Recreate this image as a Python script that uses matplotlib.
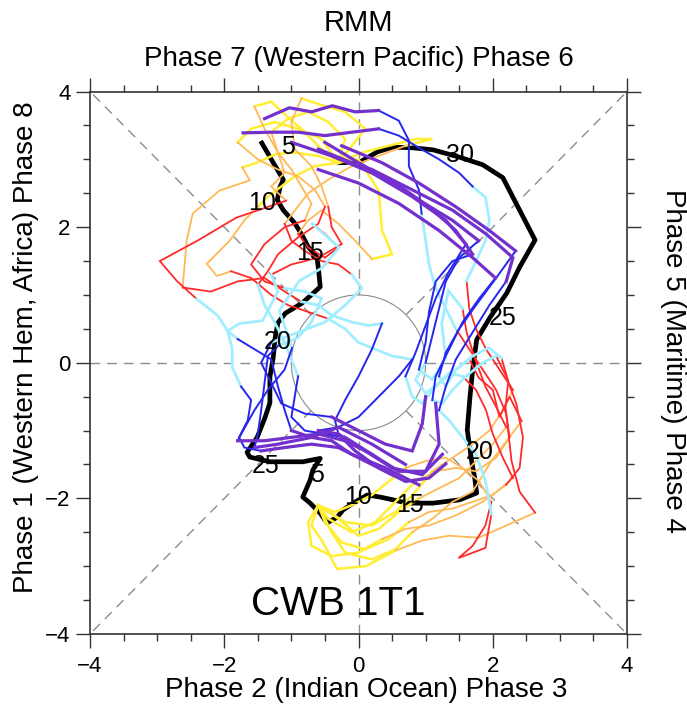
import matplotlib
matplotlib.use("Agg")
import matplotlib.pyplot as plt
from matplotlib.patches import Circle
from matplotlib.ticker import MultipleLocator

plt.rcParams['font.family'] = ['Liberation Sans', 'DejaVu Sans']

# ---------------- data ----------------
# observed RMM trajectory (RMM1, RMM2)
OBS_X = [-1.44, -1.27, -1.12, -1.17, -1.21, -1.12, -0.95, -0.84, -0.75, -0.62, -0.60, -0.57,
         -0.84, -1.09, -1.20, -1.24, -1.27, -1.32, -1.32, -1.39, -1.51, -1.66, -1.62, -1.32,
         -0.83, -0.57, -0.68, -0.72, -0.83, -0.72, -0.57, -0.47, -0.32, -0.23, -0.08, 0.13,
         0.32, 0.51, 0.72, 1.11, 1.51, 1.76, 1.73, 1.69, 1.62, 1.66, 1.70, 1.76, 1.96, 2.21,
         2.40, 2.63, 2.40, 2.15, 1.85, 1.51, 1.11, 0.81, 0.51, 0.28, 0.02, -0.28]
OBS_Y = [3.24, 2.95, 2.70, 2.59, 2.40, 2.25, 2.06, 1.88, 1.71, 1.56, 1.41, 1.12,
         0.88, 0.73, 0.59, 0.38, 0.08, -0.21, -0.59, -0.80, -1.10, -1.32, -1.39, -1.46,
         -1.46, -1.41, -1.58, -1.73, -1.98, -2.07, -2.22, -2.36, -2.28, -2.17, -2.07, -1.95,
         -1.98, -2.02, -2.07, -2.07, -2.02, -1.92, -1.69, -1.48, -0.99, -0.51, -0.11, 0.34,
         0.67, 1.03, 1.41, 1.81, 2.25, 2.73, 2.92, 3.03, 3.14, 3.17, 3.18, 3.11, 2.96, 2.95]

DAY_LABELS = ['5', '10', '15', '20', '25', '5', '10', '15', '20', '25', '30']
DAY_LX = [-1.05, -1.44, -0.72, -1.20, -1.39, -0.62, -0.01, 0.77, 1.81, 2.15, 1.51]
DAY_LY = [3.18, 2.36, 1.62, 0.31, -1.52, -1.66, -1.98, -2.10, -1.32, 0.66, 3.06]

# ensemble forecast members, forecast set 1 (31 daily points each)
S1_M1_X = [-0.30, -0.55, -0.80, -1.05, -1.30, -1.55, -1.40, -1.20, -1.10, -1.30, -1.08, -1.82, -2.40, -2.96, -2.70, -2.41,
           -2.10, -1.95, -1.88, -1.88, -1.75, -1.60, -1.65, -1.78, -1.70, -1.45, -1.10, -0.70, -0.30, 0.10, 0.50]
S1_M1_Y = [2.95, 3.15, 3.40, 3.62, 3.85, 3.78, 3.45, 3.10, 2.80, 2.60, 2.39, 2.14, 1.80, 1.50, 1.20, 0.94,
           0.70, 0.47, 0.20, -0.07, -0.35, -0.55, -0.85, -1.10, -1.25, -1.30, -1.25, -1.20, -1.25, -1.45, -1.65]
S1_M2_X = [-0.30, -0.60, -0.95, -1.22, -1.52, -1.73, -1.62, -2.07, -2.47, -2.56, -2.62, -2.20, -1.80, -1.40, -1.10, -0.85,
           -0.60, -0.40, -0.10, 0.15, 0.35, 0.20, 0.00, -0.20, -0.35, -0.30, -0.05, 0.30, 0.70, 1.05, 1.30]
S1_M2_Y = [2.95, 3.05, 3.10, 3.08, 2.95, 2.88, 2.69, 2.54, 2.20, 1.80, 1.11, 1.05, 1.20, 1.25, 1.05, 0.90,
           0.85, 0.70, 0.60, 0.55, 0.58, 0.20, -0.20, -0.55, -0.85, -1.05, -1.30, -1.55, -1.75, -1.70, -1.49]
S1_M3_X = [-0.30, -0.10, 0.10, -0.20, -0.55, -0.85, -1.00, -0.95, -0.70, -0.55, -0.45, -0.40, -0.25, -0.60, -1.00, -1.30,
           -1.20, -1.43, -1.77, -1.95, -1.80, -1.55, -1.30, -1.20, -1.10, -1.00, -0.70, -0.40, -0.10, 0.40, 0.90]
S1_M3_Y = [2.95, 3.20, 3.45, 3.70, 3.80, 3.90, 3.55, 3.15, 2.90, 2.60, 2.30, 2.00, 1.75, 1.55, 1.45, 1.30,
           1.05, 0.62, 0.58, 0.47, 0.35, 0.20, 0.05, -0.35, -0.70, -1.00, -1.10, -1.15, -1.35, -1.55, -1.80]
S1_M4_X = [-0.30, 0.00, 0.30, 0.35, 0.50, 0.20, -0.05, -0.30, -0.55, -0.75, -0.90, -0.75, -0.50, -0.30, -0.50, -0.69,
           -0.29, -0.54, -0.88, -1.18, -0.99, -1.10, -1.35, -1.55, -1.72, -1.80, -1.40, -1.00, -0.60, -0.20, 0.20]
S1_M4_Y = [2.95, 3.00, 2.54, 1.95, 1.60, 1.53, 1.80, 2.05, 2.25, 2.10, 1.90, 1.70, 1.55, 1.70, 1.90, 2.05,
           1.70, 1.40, 1.21, 0.77, 0.22, -0.10, -0.40, -0.70, -1.00, -1.15, -1.15, -1.10, -1.05, -1.15, -1.35]
S1_M5_X = [-0.30, -0.20, -0.45, -0.75, -1.05, -1.30, -1.20, -1.00, -0.85, -0.70, -0.80, -1.10, -1.40, -1.60, -1.40, -1.10,
           -0.80, -0.55, -0.70, -0.90, -1.20, -1.35, -1.40, -1.45, -1.50, -1.55, -1.20, -0.70, -0.30, 0.20, 0.70]
S1_M5_Y = [2.95, 3.30, 3.55, 3.70, 3.60, 3.40, 3.10, 2.85, 2.60, 2.35, 2.10, 2.00, 1.75, 1.45, 1.20, 1.10,
           1.05, 0.95, 0.60, 0.37, 0.25, 0.10, -0.30, -0.70, -1.05, -1.25, -1.20, -1.10, -0.95, -1.20, -1.50]
S1_M6_X = [-0.30, -0.65, -0.95, -1.15, -1.35, -1.50, -1.70, -1.92, -2.26, -2.11, -1.90, -1.60, -1.30, -1.05, -0.75, -0.45,
           -0.20, 0.00, 0.25, 0.50, 0.80, 0.60, 0.30, 0.00, -0.30, -0.60, -0.30, 0.10, 0.50, 0.95, 1.25]
S1_M6_Y = [2.95, 2.90, 2.75, 2.60, 2.45, 2.30, 2.10, 1.80, 1.46, 1.28, 1.35, 1.25, 1.00, 0.85, 0.75, 0.65,
           0.50, 0.30, 0.20, 0.10, 0.05, -0.20, -0.50, -0.80, -0.95, -1.00, -1.05, -1.30, -1.55, -1.65, -1.35]
S1_M7_X = [-0.30, -0.55, -0.90, -1.25, -1.60, -1.80, -1.50, -1.20, -0.90, -0.65, -0.50, -0.60, -0.90, -1.20, -1.35, -1.50,
           -1.40, -1.25, -1.10, -1.00, -0.90, -0.95, -1.00, -0.80, -0.50, -0.20, 0.20, 0.60, 1.00, 1.20, 1.15]
S1_M7_Y = [2.95, 3.30, 3.45, 3.55, 3.45, 3.25, 3.00, 2.85, 2.75, 2.55, 2.30, 2.05, 1.85, 1.60, 1.35, 1.15,
           0.85, 0.60, 0.30, 0.05, -0.20, -0.50, -0.80, -1.00, -1.05, -1.10, -1.35, -1.60, -1.60, -1.20, -0.60]
S1_M8_X = [-0.30, 0.05, 0.45, 0.85, 1.10, 0.70, 0.30, -0.10, -0.45, -0.75, -1.10, -1.00, -0.80, -0.55, -0.30, -0.10,
           0.05, -0.20, -0.50, -0.90, -1.30, -1.45, -1.30, -1.15, -0.80, -0.40, 0.00, 0.40, 0.80, 0.95, 1.00]
S1_M8_Y = [2.95, 3.10, 3.20, 3.30, 3.30, 3.20, 3.05, 2.90, 2.70, 2.50, 2.05, 1.80, 1.65, 1.50, 1.45, 1.30,
           1.10, 0.85, 0.60, 0.45, 0.30, 0.00, -0.30, -0.60, -0.75, -0.80, -1.00, -1.20, -1.30, -0.90, -0.50]

# forecast set 2
S2_M1_X = [-0.60, -0.70, -0.54, -0.32, 0.11, 0.55, 0.95, 1.35, 1.79, 2.20, 2.63, 2.40, 2.28, 2.19, 2.23, 2.13,
           1.94, 1.70, 1.45, 1.30, 1.20, 1.30, 1.50, 1.75, 2.05, 2.34, 1.95, 1.45, 0.90, 0.35, -0.25]
S2_M1_Y = [-2.10, -2.40, -2.63, -3.04, -3.00, -2.77, -2.62, -2.55, -2.58, -2.40, -2.21, -1.90, -1.45, -0.66, -0.27, 0.07,
           0.22, 0.10, -0.10, -0.35, -0.20, 0.15, 0.50, 0.85, 1.25, 1.65, 1.95, 2.30, 2.65, 2.95, 3.20]
S2_M2_X = [-0.60, -0.40, -0.20, 0.20, 0.55, 0.80, 1.10, 1.40, 1.70, 1.98, 2.43, 2.25, 2.10, 2.00, 1.79, 1.65,
           1.45, 1.20, 1.00, 0.85, 1.00, 1.10, 1.20, 1.30, 1.50, 1.79, 1.40, 0.90, 0.40, -0.10, -0.60]
S2_M2_Y = [-2.10, -2.50, -2.80, -2.90, -2.75, -2.50, -2.30, -2.05, -1.90, -1.45, -0.86, -0.50, -0.80, -0.40, -0.22, 0.05,
           -0.10, -0.30, -0.45, -0.25, 0.00, 0.40, 0.80, 1.20, 1.55, 1.80, 2.10, 2.40, 2.70, 2.95, 3.15]
S2_M3_X = [-0.60, -0.30, 0.00, 0.30, 0.60, 0.90, 1.20, 1.50, 1.75, 2.00, 2.20, 2.05, 1.89, 1.74, 1.61, 1.55,
           1.34, 1.24, 1.30, 1.10, 0.90, 1.00, 1.05, 1.15, 1.40, 1.70, 1.45, 1.05, 0.55, 0.00, -0.50]
S2_M3_Y = [-2.10, -2.30, -2.55, -2.45, -2.20, -2.00, -1.85, -1.70, -1.45, -1.20, -0.95, -0.65, -0.35, 0.05, 0.45, 0.80,
           1.06, 0.58, 0.07, -0.25, -0.10, 0.30, 0.75, 1.20, 1.50, 1.60, 1.95, 2.30, 2.65, 2.95, 3.25]
S2_M4_X = [-0.60, -0.45, -0.10, 0.25, 0.55, 0.85, 1.15, 1.45, 1.75, 2.05, 2.25, 2.20, 2.05, 1.85, 1.65, 1.45,
           1.30, 1.15, 1.05, 1.00, 0.94, 0.90, 0.75, 0.75, 0.60, 0.30, -0.05, -0.39, -0.70, -1.03, -1.40]
S2_M4_Y = [-2.10, -2.30, -2.50, -2.35, -2.05, -1.75, -1.60, -1.55, -1.60, -1.40, -1.10, -0.75, -0.40, -0.10, 0.20, 0.50,
           0.80, 1.10, 1.45, 1.80, 2.20, 2.55, 2.90, 3.28, 3.57, 3.72, 3.70, 3.79, 3.70, 3.76, 3.60]
S2_M5_X = [-0.60, -0.75, -0.70, -0.40, 0.00, 0.35, 0.70, 1.05, 1.45, 1.85, 2.20, 2.40, 2.45, 2.35, 2.20, 2.05,
           1.85, 1.60, 1.40, 1.25, 1.10, 1.15, 1.35, 1.55, 1.80, 2.04, 1.70, 1.20, 0.60, 0.00, -0.60]
S2_M5_Y = [-2.10, -2.35, -2.70, -2.85, -2.80, -2.60, -2.45, -2.40, -2.25, -2.05, -1.80, -1.55, -1.10, -0.60, -0.20, 0.10,
           0.00, -0.20, -0.40, -0.60, -0.55, -0.20, 0.20, 0.60, 0.95, 1.25, 1.55, 1.95, 2.35, 2.65, 2.85]
S2_M6_X = [-0.60, -0.35, -0.10, 0.20, 0.45, 0.70, 1.00, 1.30, 1.55, 1.80, 1.98, 1.89, 1.70, 1.49, 1.89, 1.98,
           1.89, 1.75, 1.55, 1.35, 1.20, 1.30, 1.45, 1.70, 1.95, 2.20, 2.30, 1.90, 1.40, 0.80, 0.20]
S2_M6_Y = [-2.10, -2.20, -2.10, -1.95, -1.75, -1.55, -1.45, -1.40, -1.55, -1.75, -2.05, -2.40, -2.70, -2.88, -2.73, -2.23,
           -1.74, -1.35, -1.10, -0.85, -0.70, -0.35, 0.05, 0.45, 0.85, 1.20, 1.55, 1.90, 2.25, 2.55, 2.85]
S2_M7_X = [-0.60, -0.50, -0.25, 0.10, 0.45, 0.75, 1.05, 1.40, 1.70, 2.00, 2.30, 2.15, 2.00, 1.90, 1.75, 1.55,
           1.35, 1.15, 0.95, 0.80, 0.70, 0.85, 1.00, 1.15, 1.35, 1.60, 1.30, 0.80, 0.20, -0.40, -1.00]
S2_M7_Y = [-2.10, -2.35, -2.65, -2.75, -2.60, -2.35, -2.20, -2.15, -2.05, -1.95, -1.70, -1.40, -1.05, -0.70, -0.40, -0.20,
           -0.15, -0.35, -0.60, -0.50, -0.20, 0.15, 0.55, 0.95, 1.35, 1.75, 2.10, 2.45, 2.80, 3.05, 3.25]
S2_M8_X = [-0.60, -0.20, 0.20, 0.55, 0.85, 1.10, 1.40, 1.70, 1.95, 2.15, 2.30, 2.10, 1.90, 1.75, 1.65, 1.61,
           1.75, 1.89, 1.95, 1.89, 1.70, 1.50, 1.20, 0.90, 0.60, 0.30, -0.10, -0.50, -0.90, -1.30, -1.72]
S2_M8_Y = [-2.10, -2.35, -2.40, -2.20, -1.90, -1.60, -1.40, -1.20, -1.00, -0.70, -0.40, -0.10, 0.20, 0.50, 0.80, 1.21,
           1.50, 1.80, 2.10, 2.44, 2.60, 2.80, 3.00, 3.17, 3.35, 3.45, 3.40, 3.35, 3.40, 3.40, 3.39]

SEG_COLORS = ['#FFEE33', '#FFB955', '#FF2A2A', '#A0EEFF', '#2626EE', '#7330CC']
SEG_WIDTHS = [1.8, 1.3, 1.3, 2.0, 1.4, 2.3]
SEG_DAYS = 5

MEMBERS = [
    (S1_M1_X, S1_M1_Y), (S1_M2_X, S1_M2_Y), (S1_M3_X, S1_M3_Y), (S1_M4_X, S1_M4_Y),
    (S1_M5_X, S1_M5_Y), (S1_M6_X, S1_M6_Y), (S1_M7_X, S1_M7_Y), (S1_M8_X, S1_M8_Y),
    (S2_M1_X, S2_M1_Y), (S2_M2_X, S2_M2_Y), (S2_M3_X, S2_M3_Y), (S2_M4_X, S2_M4_Y),
    (S2_M5_X, S2_M5_Y), (S2_M6_X, S2_M6_Y), (S2_M7_X, S2_M7_Y), (S2_M8_X, S2_M8_Y),
]

# ---------------- figure ----------------
fig = plt.figure(figsize=(6.87, 7.10), dpi=100)
ax = fig.add_axes([0.1310, 0.1070, 0.7817, 0.7641])
ax.set_xlim(-4, 4)
ax.set_ylim(-4, 4)

# phase dividers (dashed), outside the unit circle
dash_kw = dict(color='#8c8c8c', lw=1.0, ls=(0, (7, 5)), zorder=1)
r = 0.7071
for sx, sy in [(1, 1), (1, -1), (-1, 1), (-1, -1)]:
    ax.plot([sx * r, sx * 4], [sy * r, sy * 4], **dash_kw)
ax.plot([1, 4], [0, 0], **dash_kw)
ax.plot([-4, -1], [0, 0], **dash_kw)
ax.plot([0, 0], [1, 4], **dash_kw)
ax.plot([0, 0], [-4, -1], **dash_kw)
ax.add_patch(Circle((0, 0), 1.0, facecolor='white', edgecolor='#8a8a8a', lw=0.8, zorder=2))

# observed trajectory
ax.plot(OBS_X, OBS_Y, color='black', lw=3.4, solid_joinstyle='round', zorder=3)

# ensemble members, coloured by forecast lead time
for mx, my in MEMBERS:
    for k, (c, w) in enumerate(zip(SEG_COLORS, SEG_WIDTHS)):
        i0 = k * SEG_DAYS
        ax.plot(mx[i0:i0 + SEG_DAYS + 1], my[i0:i0 + SEG_DAYS + 1], color=c, lw=w,
                solid_joinstyle='miter', zorder=4 + k * 0.01)

for t, lx, ly in zip(DAY_LABELS, DAY_LX, DAY_LY):
    ax.text(lx, ly, t, fontsize=18, ha='center', va='center', color='black', zorder=6)

ax.text(-0.30, -3.55, 'CWB 1T1', fontsize=29, ha='center', va='center', zorder=6)

# ticks
ax.set_xticks([-4, -2, 0, 2, 4])
ax.set_yticks([-4, -2, 0, 2, 4])
ax.xaxis.set_minor_locator(MultipleLocator(0.5))
ax.yaxis.set_minor_locator(MultipleLocator(0.5))
ax.tick_params(which='both', direction='out', top=True, right=True, width=1.0, color='#333333')
ax.tick_params(which='major', length=10, labelsize=16, pad=4)
ax.tick_params(axis='x', which='major', pad=6)
ax.tick_params(which='minor', length=5)
for sp in ax.spines.values():
    sp.set_linewidth(1.2)
    sp.set_color('#333333')

# titles / phase labels
fig.text(358.5 / 687, 1 - 23 / 710, 'RMM', fontsize=21, ha='center', va='center')
fig.text(358.5 / 687, 1 - 59 / 710, 'Phase 7 (Western Pacific) Phase 6', fontsize=20, ha='center', va='center')
fig.text(366 / 687, 1 - 690 / 710, 'Phase 2 (Indian Ocean) Phase 3', fontsize=20, ha='center', va='center')
fig.text(26 / 687, 1 - 347 / 710, 'Phase 1 (Western Hem, Africa) Phase 8', fontsize=20,
         ha='center', va='center', rotation=90)
fig.text(673 / 687, 1 - 361 / 710, 'Phase 5 (Maritime) Phase 4', fontsize=20,
         ha='center', va='center', rotation=-90)

fig.savefig('out.png', dpi=100)
